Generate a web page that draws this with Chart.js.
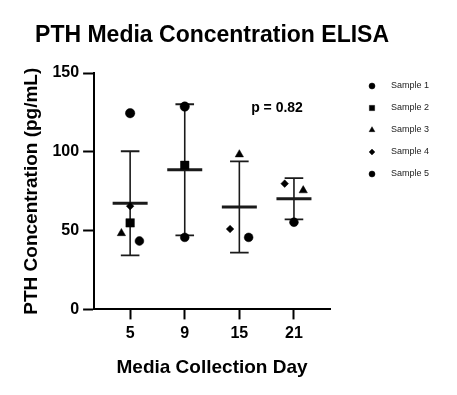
<!DOCTYPE html>
<html>
<head>
<meta charset="utf-8">
<script src="https://cdn.jsdelivr.net/npm/chart.js@4.4.1/dist/chart.umd.min.js"></script>
<style>
  body { margin: 0; background: #fff; }
  #wrap { width: 457px; height: 395px; position: relative; }
</style>
</head>
<body>
<div id="wrap"><canvas id="pthChart"></canvas></div>
<script>
/* ======================================
   DATA
====================================== */
const days = ["5", "9", "15", "21"];
const sampleNames = ["Sample 1", "Sample 2", "Sample 3", "Sample 4", "Sample 5"];
const sample1 = [124.5, 128.7, null, null];
const sample2 = [54.9, 91.4, null, null];
const sample3 = [48.3, null, 98.3, 75.5];
const sample4 = [65.5, null, 51.0, 79.8];
const sample5 = [43.4, 45.7, 45.7, 55.3];
const yTicks = [0, 50, 100, 150];
const chartTitle = "PTH Media Concentration ELISA";
const pValueText = "p = 0.82";

const samples = [sample1, sample2, sample3, sample4, sample5];
const styles = ["circle", "rect", "triangle", "rectRot", "circle"];
const radii = [4.7, 6, 4.8, 3.8, 4.4];
// horizontal scatter so overlapping points stay visible (category units)
const jitter = [
  [0, 0, 0, 0],
  [0, 0, 0, 0],
  [-0.16, 0, 0, 0.17],
  [0, 0, -0.17, -0.17],
  [0.17, 0, 0.17, 0]
];

Chart.defaults.font.family = "'Liberation Sans', Arial, sans-serif";
Chart.defaults.color = "#000";

/* ======================================
   MEAN +/- SD PER DAY
====================================== */
const stats = days.map((d, i) => {
  const vals = samples.map(s => s[i]).filter(v => v !== null);
  const mean = vals.reduce((a, b) => a + b, 0) / vals.length;
  const sd = Math.sqrt(vals.reduce((a, v) => a + (v - mean) ** 2, 0) / (vals.length - 1));
  return { mean, lo: mean - sd, hi: mean + sd };
});

const pointSets = samples.map((s, k) => ({
  label: sampleNames[k],
  data: s.map((v, i) => ({ x: i + jitter[k][i], y: v })).filter(p => p.y !== null),
  pointStyle: styles[k],
  pointRadius: radii[k],
  backgroundColor: "#000",
  borderColor: "#000",
  pointBorderWidth: 0.5
}));

const whiskers = [];
stats.forEach((st, i) => {
  whiskers.push({ x: i, y: st.lo }, { x: i, y: st.hi }, { x: i, y: null });
});

/* ======================================
   PLUGINS: TITLE, LEGEND, P VALUE
====================================== */
const headTitle = {
  id: "headTitle",
  afterDraw(chart) {
    const { ctx, chartArea } = chart;
    ctx.save();
    ctx.font = "bold 23px 'Liberation Sans', Arial, sans-serif";
    ctx.fillStyle = "#000";
    ctx.textAlign = "center";
    ctx.textBaseline = "middle";
    ctx.fillText(chartTitle, (chartArea.left + chartArea.right) / 2, 35.5);
    ctx.restore();
  }
};

const sideLegend = {
  id: "sideLegend",
  afterDraw(chart) {
    const ctx = chart.ctx;
    const legendRadii = [3, 3.7, 3.3, 2.9, 3];
    ctx.save();
    sampleNames.forEach((name, k) => {
      const y = 86 + k * 22;
      ctx.fillStyle = "#000";
      ctx.strokeStyle = "#000";
      ctx.lineWidth = 0.5;
      Chart.helpers.drawPoint(ctx, { pointStyle: styles[k], radius: legendRadii[k], rotation: 0, borderWidth: 0.5 }, 372, y);
      ctx.fillStyle = "#222";
      ctx.font = "9px 'Liberation Sans', Arial, sans-serif";
      ctx.textAlign = "left";
      ctx.textBaseline = "middle";
      ctx.fillText(name, 391, y);
    });
    ctx.restore();
  }
};

const pLabel = {
  id: "pLabel",
  afterDraw(chart) {
    const { ctx, scales } = chart;
    ctx.save();
    ctx.font = "bold 14px 'Liberation Sans', Arial, sans-serif";
    ctx.fillStyle = "#000";
    ctx.textAlign = "center";
    ctx.textBaseline = "middle";
    ctx.fillText(pValueText, scales.x.getPixelForValue(2.69), scales.y.getPixelForValue(127.6));
    ctx.restore();
  }
};

/* ======================================
   CHART
====================================== */
new Chart(document.getElementById("pthChart"), {
  type: "scatter",
  data: {
    datasets: [
      ...pointSets,
      {
        label: "mean",
        data: stats.map((st, i) => ({ x: i, y: st.mean })),
        pointStyle: "line",
        pointRadius: 17.5,
        pointBorderWidth: 3,
        borderColor: "#1a1a1a"
      },
      {
        label: "caps",
        data: stats.flatMap((st, i) => [{ x: i, y: st.lo }, { x: i, y: st.hi }]),
        pointStyle: "line",
        pointRadius: 9.3,
        pointBorderWidth: 1.8,
        borderColor: "#1a1a1a"
      },
      {
        label: "sd",
        data: whiskers,
        showLine: true,
        pointRadius: 0,
        borderWidth: 1.6,
        borderColor: "#1a1a1a"
      }
    ]
  },
  plugins: [headTitle, sideLegend, pLabel],
  options: {
    responsive: true,
    maintainAspectRatio: false,
    animation: false,
    events: [],
    layout: { padding: { left: 8, right: 127, top: 73, bottom: 6 } },
    plugins: {
      legend: { display: false },
      tooltip: { enabled: false },
      title: { display: false }
    },
    scales: {
      x: {
        type: "linear",
        min: -0.66,
        max: 3.66,
        offset: false,
        afterBuildTicks: scale => { scale.ticks = days.map((d, i) => ({ value: i })); },
        ticks: {
          callback: v => days[v],
          font: { size: 16, weight: "bold" },
          color: "#000",
          padding: 5,
          maxRotation: 0
        },
        grid: { drawOnChartArea: false, drawTicks: true, tickLength: 10, tickWidth: 2, color: "#000", offset: false },
        border: { display: true, color: "#000", width: 2 },
        title: {
          display: true,
          text: "Media Collection Day",
          color: "#000",
          font: { size: 19, weight: "bold" },
          padding: { top: 8, bottom: 9.6 }
        }
      },
      y: {
        min: 0,
        max: 150,
        afterBuildTicks: scale => { scale.ticks = yTicks.map(v => ({ value: v })); },
        ticks: {
          font: { size: 16, weight: "bold" },
          color: "#000",
          padding: 4
        },
        grid: { drawOnChartArea: false, drawTicks: true, tickLength: 11, tickWidth: 2, color: "#000" },
        border: { display: true, color: "#000", width: 2 },
        title: {
          display: true,
          text: "PTH Concentration (pg/mL)",
          color: "#000",
          font: { size: 19, weight: "bold" },
          padding: { top: 12.6, bottom: 5 }
        }
      }
    }
  }
});
</script>
</body>
</html>
